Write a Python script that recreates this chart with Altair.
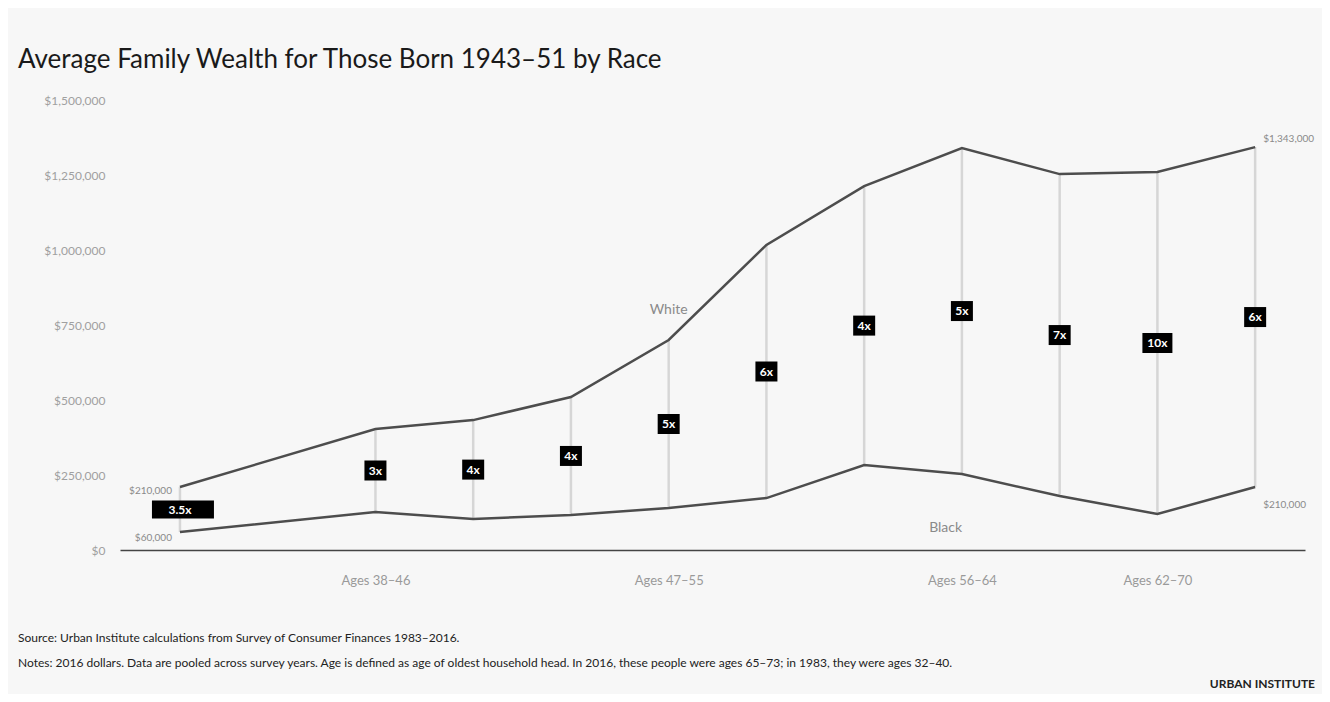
import altair as alt
import pandas as pd

years = [1983, 1989, 1992, 1995, 1998, 2001, 2004, 2007, 2010, 2013, 2016]
white = [210000, 403000, 433000, 510000, 700000, 1017000, 1213000, 1340000, 1253000, 1260000, 1343000]
black = [60000, 127000, 103000, 117000, 140000, 173000, 283000, 253000, 180000, 120000, 210000]
ratios = ["3.5x", "3x", "4x", "4x", "5x", "6x", "4x", "5x", "7x", "10x", "6x"]

y_ticks = [0, 250000, 500000, 750000, 1000000, 1250000, 1500000]
x_tick_years = [1989, 1998, 2007, 2013]
x_tick_labels = ["Ages 38–46", "Ages 47–55", "Ages 56–64", "Ages 62–70"]

title_text = "Average Family Wealth for Those Born 1943–51 by Race"
source_text = "Source: Urban Institute calculations from Survey of Consumer Finances 1983–2016."
notes_text = ("Notes: 2016 dollars. Data are pooled across survey years. Age is defined as age of oldest household head. "
              "In 2016, these people were ages 65–73; in 1983, they were ages 32–40.")

wide = pd.DataFrame({"year": years, "white": white, "black": black, "ratio": ratios})
wide["mid"] = (wide["white"] + wide["black"]) / 2
long = pd.DataFrame({
    "year": years * 2,
    "race": ["White"] * len(years) + ["Black"] * len(years),
    "value": white + black,
})

xs = alt.Scale(domain=[1981.16, 2017.53], nice=False, zero=False)
ys = alt.Scale(domain=[0, 1500000], nice=False)

label_expr = " : ".join(
    f"datum.value == {y} ? '{l}'" for y, l in zip(x_tick_years, x_tick_labels)
) + " : ''"

X = alt.X("year:Q", scale=xs, title=None,
          axis=alt.Axis(values=x_tick_years, labelExpr=label_expr, grid=False, ticks=False,
                        domain=True, domainColor="#444444", domainWidth=1.5,
                        labelPadding=24, labelColor="#9a9a9a", labelFontSize=13, labelFont="Lato"))
Y = alt.Y("value:Q", scale=ys, title=None,
          axis=alt.Axis(values=y_ticks, format="$,.0f", grid=False, ticks=False, domain=False,
                        labelPadding=15, labelColor="#a0a0a0", labelFontSize=12, labelFont="Lato"))

base = alt.Chart(wide)

rules = base.mark_rule(color="#d6d6d6", strokeWidth=2.5).encode(
    x=alt.X("year:Q", scale=xs), y=alt.Y("black:Q", scale=ys), y2="white:Q")

lines = alt.Chart(long).mark_line(color="#4d4d4d", strokeWidth=2.5).encode(
    x=X, y=Y, detail="race:N")

narrow = base.transform_filter("datum.year > 1983 && datum.ratio != '10x'").mark_rect(
    color="black", xOffset=-11, x2Offset=11, yOffset=-10, y2Offset=10).encode(
    x=alt.X("year:Q", scale=xs), x2="year:Q", y=alt.Y("mid:Q", scale=ys), y2="mid:Q")
mid_box = base.transform_filter("datum.ratio == '10x'").mark_rect(
    color="black", xOffset=-15, x2Offset=15, yOffset=-10, y2Offset=10).encode(
    x=alt.X("year:Q", scale=xs), x2="year:Q", y=alt.Y("mid:Q", scale=ys), y2="mid:Q")
first_box = base.transform_filter("datum.year == 1983").mark_rect(
    color="black", xOffset=-28, x2Offset=34, yOffset=-9, y2Offset=9).encode(
    x=alt.X("year:Q", scale=xs), x2="year:Q", y=alt.Y("mid:Q", scale=ys), y2="mid:Q")

box_text = base.mark_text(color="white", fontSize=12, fontWeight="bold", font="Lato").encode(
    x=alt.X("year:Q", scale=xs), y=alt.Y("mid:Q", scale=ys), text="ratio:N")

first = base.transform_filter("datum.year == 1983")
last = base.transform_filter("datum.year == 2016")
lab_style = dict(color="#8a8a8a", fontSize=10, font="Lato")
w_start = first.mark_text(align="right", dx=-8, dy=4, **lab_style).encode(
    x=alt.X("year:Q", scale=xs), y=alt.Y("white:Q", scale=ys), text=alt.Text("white:Q", format="$,.0f"))
b_start = first.mark_text(align="right", dx=-8, dy=6, **lab_style).encode(
    x=alt.X("year:Q", scale=xs), y=alt.Y("black:Q", scale=ys), text=alt.Text("black:Q", format="$,.0f"))
w_end = last.mark_text(align="left", dx=8, dy=-8, **lab_style).encode(
    x=alt.X("year:Q", scale=xs), y=alt.Y("white:Q", scale=ys), text=alt.Text("white:Q", format="$,.0f"))
b_end = last.mark_text(align="left", dx=8, dy=18, **lab_style).encode(
    x=alt.X("year:Q", scale=xs), y=alt.Y("black:Q", scale=ys), text=alt.Text("black:Q", format="$,.0f"))

series_lab = pd.DataFrame({"year": [1998, 2006.5], "value": [800000, 75000], "race": ["White", "Black"]})
series_text = alt.Chart(series_lab).mark_text(color="#8a8a8a", fontSize=14, font="Lato").encode(
    x=alt.X("year:Q", scale=xs), y=alt.Y("value:Q", scale=ys), text="race:N")

def note(txt, x, y, size, color, weight="normal", align="left"):
    return alt.Chart(pd.DataFrame({"t": [txt]})).mark_text(
        align=align, baseline="middle", fontSize=size, color=color, fontWeight=weight, font="Lato"
    ).encode(x=alt.value(x), y=alt.value(y), text="t:N")

title = note(title_text, -102, -40, 26, "#1a1a1a")
source = note(source_text, -102, 538, 12, "#222222")
notes = note(notes_text, -102, 563, 12, "#222222")
logo = note("URBAN INSTITUTE", 1195, 584, 12, "#222222", weight="bold", align="right")

chart = alt.layer(
    rules, lines, narrow, mid_box, first_box, box_text,
    w_start, b_start, w_end, b_end, series_text,
    title, source, notes, logo,
).properties(
    width=1185, height=450,
    autosize=alt.AutoSizeParams(type="none"),
    padding={"left": 112, "top": 92, "right": 17, "bottom": 144},
    background="#f7f7f7",
).configure_view(stroke=None)

chart.save("out.html", embed_options={"renderer": "svg", "actions": False})
